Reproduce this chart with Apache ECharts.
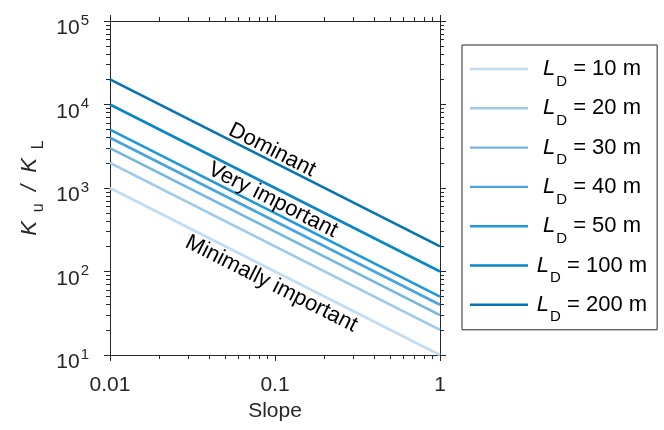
<!DOCTYPE html>
<html lang="en">
<head>
<meta charset="UTF-8" />
<title>Ku / KL against slope</title>
<script src="https://cdnjs.cloudflare.com/ajax/libs/echarts/6.0.0/echarts.min.js"></script>
<style>
  html, body { margin: 0; padding: 0; background: #fff; }
  #main { width: 664px; height: 430px; }
</style>
</head>
<body>
<div id="main"></div>
<script>
// each line is straight on log-log axes, so its two ends are enough
var slopeEnds = [0.01, 1];
var ldValues = [10, 20, 30, 40, 50, 100, 200];
var kAtLowSlope = [1000, 2000, 3000, 4000, 5000, 10000, 20000];
var kAtHighSlope = [10, 20, 30, 40, 50, 100, 200];

var xMajorTicks = [0.01, 0.1, 1];
var xMinorTicks = [0.02, 0.03, 0.04, 0.05, 0.06, 0.07, 0.08, 0.09,
                   0.2, 0.3, 0.4, 0.5, 0.6, 0.7, 0.8, 0.9];
var yMajorTicks = [10, 100, 1000, 10000, 100000];
var yMinorTicks = [20, 30, 40, 50, 60, 70, 80, 90,
                   200, 300, 400, 500, 600, 700, 800, 900,
                   2000, 3000, 4000, 5000, 6000, 7000, 8000, 9000,
                   20000, 30000, 40000, 50000, 60000, 70000, 80000, 90000];

var annoText = ['Dominant', 'Very important', 'Minimally important'];
var annoSlope = [0.096, 0.097, 0.095];
var annoK = [2850, 718, 71];

var lineColors = ['#c4dcef', '#9ccaea', '#74b7e3', '#4aa5dd', '#1f97d9', '#0a86c7', '#0673b4'];
var axisColor = '#262626';
var fontFam = '"Liberation Sans", Arial, sans-serif';

var chart = echarts.init(document.getElementById('main'));

function xAxisDef(pos, ticks, tickLen, withLabel) {
  return {
    type: 'log', logBase: 10, min: 0.01, max: 1, position: pos, gridIndex: 0,
    axisLine: { show: true, lineStyle: { color: axisColor, width: 1 } },
    axisTick: { show: true, inside: false, length: tickLen, customValues: ticks,
                lineStyle: { color: axisColor, width: 1 } },
    axisLabel: withLabel ? {
      show: true, customValues: ticks, margin: 20, color: axisColor,
      fontSize: 21, fontFamily: fontFam,
      formatter: function (v) { return String(v); }
    } : { show: false },
    splitLine: { show: false },
    name: withLabel ? 'Slope' : '',
    nameLocation: 'middle', nameGap: 45,
    nameTextStyle: { color: axisColor, fontSize: 21, fontFamily: fontFam }
  };
}

function yAxisDef(pos, ticks, tickLen, withLabel) {
  return {
    type: 'log', logBase: 10, min: 10, max: 100000, position: pos, gridIndex: 0,
    axisLine: { show: true, lineStyle: { color: axisColor, width: 1 } },
    axisTick: { show: true, inside: false, length: tickLen, customValues: ticks,
                lineStyle: { color: axisColor, width: 1 } },
    axisLabel: withLabel ? {
      show: true, customValues: ticks, margin: 21, padding: [15, 0, 0, 0],
      formatter: function (v) {
        return '{b|10}{s|' + Math.round(Math.log10(v)) + '}';
      },
      rich: {
        b: { fontSize: 21, fontFamily: fontFam, color: axisColor, lineHeight: 31, verticalAlign: 'middle' },
        s: { fontSize: 15, fontFamily: fontFam, color: axisColor, lineHeight: 14, verticalAlign: 'top',
             padding: [0, 0, 0, 1] }
      }
    } : { show: false },
    splitLine: { show: false },
    name: withLabel ? '{k|K}{s|  u}{k|  /  }{k|K}{s|  L}' : '',
    nameLocation: 'middle', nameGap: 63, nameRotate: 90,
    nameTextStyle: {
      rich: {
        k: { fontSize: 22, fontFamily: fontFam, fontStyle: 'italic', color: axisColor,
             lineHeight: 34, verticalAlign: 'middle' },
        s: { fontSize: 16, fontFamily: fontFam, color: axisColor, lineHeight: 16,
             verticalAlign: 'bottom' }
      }
    }
  };
}

var series = ldValues.map(function (ld, i) {
  return {
    name: ld + ' m',
    type: 'line',
    xAxisIndex: 0,
    yAxisIndex: 0,
    symbol: 'none',
    silent: true,
    z: 2 + i,
    lineStyle: { color: lineColors[i], width: 2.6 },
    itemStyle: { color: lineColors[i] },
    data: [[slopeEnds[0], kAtLowSlope[i]], [slopeEnds[1], kAtHighSlope[i]]]
  };
});

var option = {
  animation: false,
  backgroundColor: '#ffffff',
  grid: { left: 110, top: 21, width: 330, height: 334, containLabel: false },
  xAxis: [
    xAxisDef('bottom', xMajorTicks, 6, true),
    xAxisDef('bottom', xMinorTicks, 4, false),
    xAxisDef('top', xMajorTicks, 6, false),
    xAxisDef('top', xMinorTicks, 4, false)
  ],
  yAxis: [
    yAxisDef('left', yMajorTicks, 6, true),
    yAxisDef('left', yMinorTicks, 4, false),
    yAxisDef('right', yMajorTicks, 6, false),
    yAxisDef('right', yMinorTicks, 4, false)
  ],
  legend: {
    orient: 'vertical',
    left: 462, top: 45,
    padding: [13, 10, 5, 8],
    icon: 'rect',
    itemWidth: 58, itemHeight: 2.4, itemGap: 8.3,
    borderColor: '#262626', borderWidth: 1, borderRadius: 0,
    backgroundColor: '#ffffff',
    selectedMode: false,
    data: ldValues.map(function (ld) { return ld + ' m'; }),
    formatter: function (name) {
      return '{l|L}{d|D}{t| = ' + name + '}';
    },
    textStyle: {
      width: 118,
      rich: {
        l: { fontSize: 22, fontFamily: fontFam, fontStyle: 'italic', color: '#000', lineHeight: 40,
             verticalAlign: 'middle', align: 'center' },
        d: { fontSize: 15, fontFamily: fontFam, color: '#000', lineHeight: 15,
             verticalAlign: 'bottom', align: 'center', padding: [0, 0, 0, 1] },
        t: { fontSize: 22, fontFamily: fontFam, color: '#000', lineHeight: 40,
             verticalAlign: 'middle', align: 'center' }
      }
    }
  },
  series: series
};

chart.setOption(option);

// annotations placed in data coordinates, rotated along the lines
var p1 = chart.convertToPixel({ xAxisIndex: 0, yAxisIndex: 0 }, [slopeEnds[0], kAtLowSlope[6]]);
var p2 = chart.convertToPixel({ xAxisIndex: 0, yAxisIndex: 0 }, [slopeEnds[1], kAtHighSlope[6]]);
var angle = Math.atan2(p2[1] - p1[1], p2[0] - p1[0]);

chart.setOption({
  graphic: annoText.map(function (t, i) {
    var p = chart.convertToPixel({ xAxisIndex: 0, yAxisIndex: 0 }, [annoSlope[i], annoK[i]]);
    return {
      type: 'text',
      x: p[0], y: p[1],
      rotation: -angle,
      z: 50,
      style: {
        text: t,
        fontSize: 22,
        fontFamily: fontFam,
        fill: '#000',
        align: 'center', verticalAlign: 'middle',
        textAlign: 'center', textVerticalAlign: 'middle'
      }
    };
  })
});

window.onresize = function () { chart.resize(); };
</script>
</body>
</html>
